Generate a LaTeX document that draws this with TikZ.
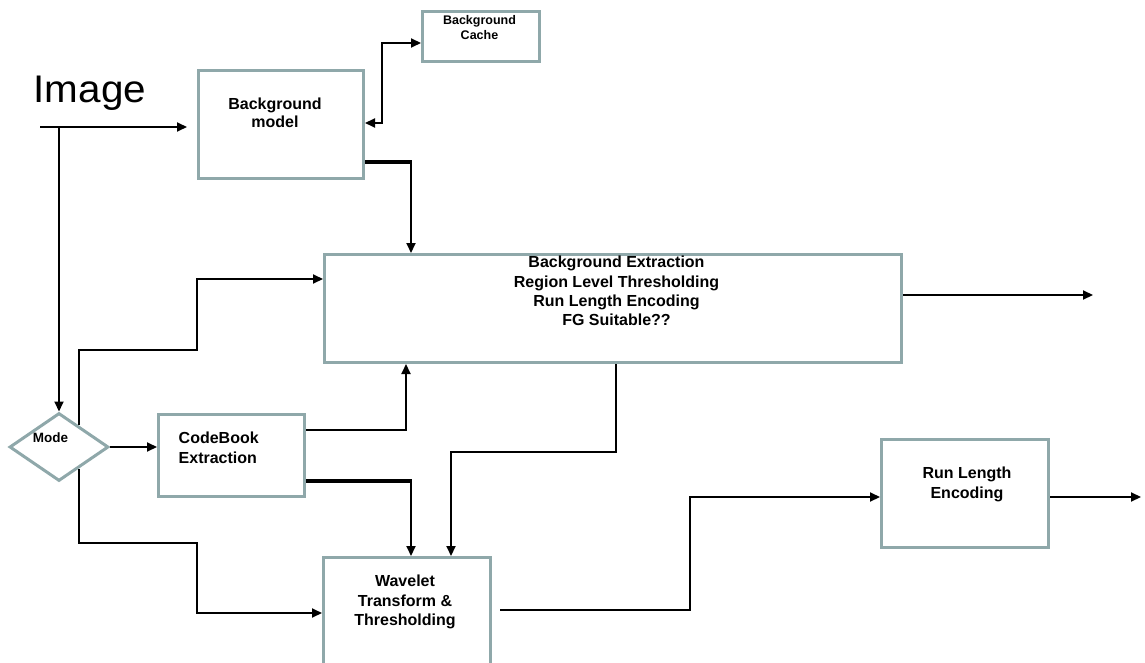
\documentclass[tikz,border=0pt]{standalone}
\usepackage{fontspec}
\setmainfont{Liberation Sans}
\usetikzlibrary{arrows.meta,shapes.geometric,calc}
\definecolor{boxgray}{RGB}{143,168,170}
\begin{document}
\begin{tikzpicture}[x=1pt,y=-1pt,
  box/.style={draw=boxgray, line width=3pt, fill=white, inner sep=0pt, anchor=north west},
  txt/.style={inner sep=0pt, align=center, font=\bfseries\fontsize{16}{19.3}\selectfont},
  smalltxt/.style={inner sep=0pt, align=center, font=\bfseries\fontsize{12.5}{15}\selectfont},
  line/.style={draw=black, line width=2pt},
  conn/.style={line, -{Triangle[length=10pt,width=9pt]}},
  biconn/.style={line, {Triangle[length=10pt,width=9pt]}-{Triangle[length=10pt,width=9pt]}},
  thickseg/.style={draw=black, line width=3.5pt, shorten >=-1pt}
]
\clip (0,0) rectangle (1145,663);

% blocks
\node[box, minimum width=117pt, minimum height=50pt] (cache) at (421,10) {};
\node[box, minimum width=165pt, minimum height=108pt] (bgm) at (197,69) {};
\node[box, minimum width=577pt, minimum height=108pt] (big) at (323,253) {};
\node[box, minimum width=146pt, minimum height=82pt] (cb) at (157,413) {};
\node[box, minimum width=167pt, minimum height=130pt] (wav) at (322,556) {};
\node[box, minimum width=167pt, minimum height=108pt] (rle) at (880,438) {};
\node[diamond, draw=boxgray, line width=3pt, fill=white, inner sep=0pt,
      minimum width=99pt, minimum height=68pt] (mode) at (59,447) {};

% block texts
\node[smalltxt, anchor=north] (cachetxt) at ([xshift=-1.5pt,yshift=-5.5pt]cache.north) {Background\\Cache};
\node[txt, anchor=north, font=\bfseries\fontsize{16}{18}\selectfont] (bgmtxt) at ([xshift=-6pt,yshift=-29pt]bgm.north) {Background\\model};
\node[txt, anchor=north] (bigtxt) at ([xshift=3.5pt,yshift=-3pt]big.north) {Background Extraction\\Region Level Thresholding\\Run Length Encoding\\FG Suitable??};
\node[txt, anchor=north west, align=left, font=\bfseries\fontsize{16}{20.5}\selectfont] (cbtxt) at ([xshift=21.5pt,yshift=-18.5pt]cb.north west) {CodeBook\\Extraction};
\node[txt, anchor=north, font=\bfseries\fontsize{16}{19.6}\selectfont] (wavtxt) at ([xshift=-2pt,yshift=-19pt]wav.north) {Wavelet\\Transform \&\\Thresholding};
\node[txt, anchor=north, font=\bfseries\fontsize{16}{20.5}\selectfont] (rletxt) at ([xshift=2pt,yshift=-28.5pt]rle.north) {Run Length\\Encoding};
\node[inner sep=0pt, anchor=base, font=\bfseries\fontsize{13.5}{16}\selectfont] (modetxt) at (50.5,442) {Mode};
\node[inner sep=0pt, anchor=base west, font=\fontsize{38.5}{44}\selectfont] (imgtxt) at (33.5,102.5) {\scalebox{1.05}[1]{Image}};

% columns of the vertical runs
\coordinate (colA) at (382,0);
\coordinate (colB) at (411,0);
\coordinate (colC) at (406,0);
\coordinate (colE) at (690,0);
\coordinate (colO1) at (1093,0);
\coordinate (colO2) at (1141,0);

% end points on the blocks
\coordinate (img0) at (40,127);
\coordinate (img1) at (img0 -| mode.north);
\coordinate (b1) at ([yshift=1.5pt]bgm.east);
\coordinate (b2) at ([yshift=-37.5pt]bgm.east);
\coordinate (ca) at ([yshift=-6.5pt]cache.west);
\coordinate (ba) at ([yshift=29.5pt]big.west);
\coordinate (be) at ([yshift=13.5pt]big.east);
\coordinate (cb1) at ([yshift=25.5pt]cb.east);
\coordinate (cb2) at ([yshift=-25.5pt]cb.east);
\coordinate (wa) at ([yshift=9.5pt]wav.west);
\coordinate (we) at ([yshift=12.5pt]wav.east);
\coordinate (ra) at ([yshift=-3.5pt]rle.west);
\coordinate (re) at ([yshift=-3.5pt]rle.east);
\coordinate (m1) at ($(mode.north)!0.384!(mode.east)$);
\coordinate (m2) at ($(mode.south)!0.384!(mode.east)$);
\coordinate (c2) at (197,350);
\coordinate (c3) at (197,543);
\coordinate (c4) at (616,452);
\coordinate (c5) at (451,452);

% connectors
\draw[conn, shorten >=10pt] (img0) -- (img0 -| bgm.west);
\draw[conn] (img1) -- (mode.north);
\draw[biconn] (b1) -- (b1 -| colA) |- (ca);
\draw[conn] (b2) -| (colB |- big.north);
\draw[thickseg] (b2) -- (b2 -| colB);
\draw[conn] (m1) |- (c2) |- (ba);
\draw[conn] (mode.east) -- (mode.east -| cb.west);
\draw[conn] (m2) |- (c3) |- (wa);
\draw[conn] (cb1) -| (colC |- big.south);
\draw[conn] (cb2) -| (colB |- wav.north);
\draw[thickseg] (cb2) -- (cb2 -| colB);
\draw[conn] (c4 |- big.south) -- (c4) -| (c5 |- wav.north);
\draw[conn] (be) -- (be -| colO1);
\draw[conn, shorten <=8pt] (we) -- (we -| colE) |- (ra);
\draw[conn] (re) -- (re -| colO2);
\end{tikzpicture}
\end{document}
